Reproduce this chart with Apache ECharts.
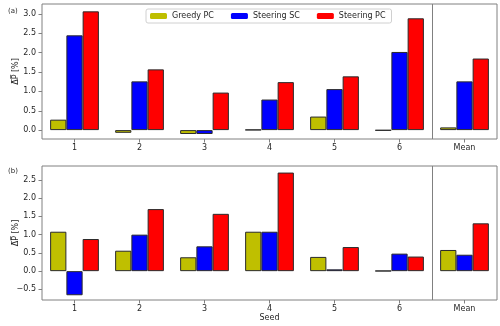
<!DOCTYPE html>
<html>
<head>
<meta charset="utf-8">
<script src="https://cdn.jsdelivr.net/npm/echarts@6/dist/echarts.min.js"></script>
<style>
  body { margin: 0; }
  #chart { width: 500px; height: 326px; }
</style>
</head>
<body>
<div id="chart"></div>
<script>
var seeds = ["1", "2", "3", "4", "5", "6", "Mean"];
var seriesNames = ["Greedy PC", "Steering SC", "Steering PC"];
var colors = ["#bfbf00", "#0000ff", "#ff0000"];

// panel (a)
var greedyA = [0.27, -0.07, -0.10, 0.01, 0.35, -0.01, 0.07];
var scA = [2.45, 1.26, -0.10, 0.79, 1.06, 2.02, 1.26];
var pcA = [3.07, 1.57, 0.97, 1.24, 1.39, 2.89, 1.85];
var ticksA = [0, 0.5, 1, 1.5, 2, 2.5, 3];

// panel (b)
var greedyB = [1.08, 0.56, 0.38, 1.08, 0.39, 0.01, 0.58];
var scB = [-0.66, 1.00, 0.68, 1.08, 0.05, 0.48, 0.45];
var pcB = [0.88, 1.70, 1.57, 2.70, 0.66, 0.40, 1.31];
var ticksB = [-0.5, 0, 0.5, 1, 1.5, 2, 2.5];

var frame = "#808080";
var textColor = "#262626";
var font = "DejaVu Sans";

function tickLabel(v) {
  return v.toFixed(1).replace("-", "\u2212");
}

function xAxisFor(idx, withName) {
  return {
    type: "category",
    gridIndex: idx,
    position: "bottom",
    data: seeds,
    name: withName ? "Seed" : "",
    nameLocation: "middle",
    nameGap: 14,
    nameMoveOverlap: false,
    nameTextStyle: { color: textColor, fontSize: 8, fontFamily: font },
    axisLine: { show: false, onZero: false },
    axisTick: { show: true, alignWithLabel: true, length: 3.5, lineStyle: { color: frame } },
    axisLabel: { color: textColor, fontSize: 8, fontFamily: font, margin: 5 },
    splitLine: { show: false }
  };
}

// hidden axis used only to place the separator between "6" and "Mean"
function sepAxisFor(idx) {
  return {
    type: "value",
    gridIndex: idx,
    min: -0.5,
    max: seeds.length - 0.5,
    show: false,
    axisLine: { onZero: false }
  };
}

function yAxisFor(idx, min, max, ticks) {
  return {
    type: "value",
    gridIndex: idx,
    position: "left",
    min: min,
    max: max,
    name: "\u0394\u0305P\u0305 [%]",
    nameLocation: "middle",
    nameGap: 22,
    nameMoveOverlap: false,
    nameTextStyle: { color: textColor, fontSize: 8, fontFamily: font },
    axisLine: { show: false, onZero: false },
    axisTick: { show: true, length: 3.5, lineStyle: { color: frame }, customValues: ticks },
    axisLabel: { color: textColor, fontSize: 8, fontFamily: font, margin: 6, formatter: tickLabel, customValues: ticks },
    splitLine: { show: false }
  };
}

function barSeries(name, data, idx, color) {
  return {
    name: name,
    type: "bar",
    xAxisIndex: idx,
    yAxisIndex: idx,
    data: data,
    barGap: "0%",
    barCategoryGap: "25%",
    itemStyle: { color: color, borderColor: "#2a2a2a", borderWidth: 1 },
    emphasis: { disabled: true }
  };
}

function separator(idx) {
  return {
    type: "line",
    xAxisIndex: idx + 2,
    yAxisIndex: idx,
    data: [],
    silent: true,
    markLine: {
      silent: true,
      symbol: "none",
      label: { show: false },
      lineStyle: { color: frame, type: "solid", width: 1 },
      data: [{ xAxis: seeds.length - 1.5 }]
    }
  };
}

var chart = echarts.init(document.getElementById("chart"));
chart.setOption({
  animation: false,
  textStyle: { fontFamily: font },
  title: [
    { text: "(a)", left: 3, top: 3, textStyle: { fontSize: 7, fontWeight: "normal", color: textColor, fontFamily: font } },
    { text: "(b)", left: 3, top: 163, textStyle: { fontSize: 7, fontWeight: "normal", color: textColor, fontFamily: font } }
  ],
  legend: {
    data: seriesNames,
    left: 146,
    top: 9,
    itemWidth: 17,
    itemHeight: 6,
    itemGap: 17,
    padding: [3, 6, 3, 4],
    backgroundColor: "#fff",
    borderColor: "#d0d0d0",
    borderWidth: 1,
    borderRadius: 2,
    textStyle: { color: textColor, fontSize: 8, fontFamily: font },
    itemStyle: { borderWidth: 0 }
  },
  grid: [
    { left: 42, right: 3, top: 4, height: 135, show: true, borderColor: frame, borderWidth: 1, backgroundColor: "transparent", containLabel: false, outerBoundsMode: "none" },
    { left: 42, right: 3, top: 166, height: 134, show: true, borderColor: frame, borderWidth: 1, backgroundColor: "transparent", containLabel: false, outerBoundsMode: "none" }
  ],
  xAxis: [xAxisFor(0, false), xAxisFor(1, true), sepAxisFor(0), sepAxisFor(1)],
  yAxis: [yAxisFor(0, -0.23, 3.26, ticksA), yAxisFor(1, -0.79, 2.88, ticksB)],
  series: [
    barSeries(seriesNames[0], greedyA, 0, colors[0]),
    barSeries(seriesNames[1], scA, 0, colors[1]),
    barSeries(seriesNames[2], pcA, 0, colors[2]),
    barSeries(seriesNames[0], greedyB, 1, colors[0]),
    barSeries(seriesNames[1], scB, 1, colors[1]),
    barSeries(seriesNames[2], pcB, 1, colors[2]),
    separator(0),
    separator(1)
  ]
});
</script>
</body>
</html>
